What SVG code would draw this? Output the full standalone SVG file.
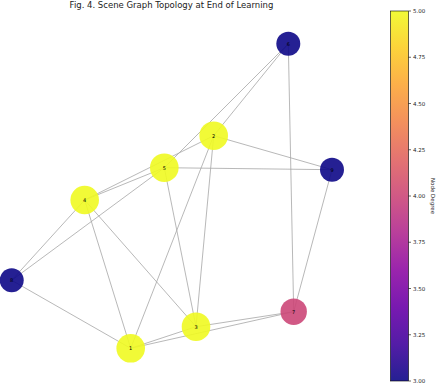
<svg xmlns="http://www.w3.org/2000/svg" width="440" height="384" viewBox="0 0 440 384">
<defs>
<linearGradient id="plasma" x1="0" y1="1" x2="0" y2="0">
<stop offset="0" stop-color="#0d0887"/>
<stop offset="0.1" stop-color="#41049d"/>
<stop offset="0.2" stop-color="#6a00a8"/>
<stop offset="0.3" stop-color="#8f0da4"/>
<stop offset="0.4" stop-color="#b12a90"/>
<stop offset="0.5" stop-color="#cc4778"/>
<stop offset="0.6" stop-color="#e16462"/>
<stop offset="0.7" stop-color="#f2844b"/>
<stop offset="0.8" stop-color="#fca636"/>
<stop offset="0.9" stop-color="#fcce25"/>
<stop offset="1" stop-color="#f0f921"/>
</linearGradient>
</defs>
<style>
.edge{stroke:#a6a6a6;stroke-width:0.8;fill:none}
.node circle{fill-opacity:0.9;stroke:none}
.d3{fill:#0d0887}
.d4{fill:#cc4778}
.d5{fill:#f0f921}
.lbl{font-family:"DejaVu Sans",sans-serif;font-size:5px;fill:#000;text-anchor:middle;dominant-baseline:central}
.title{font-family:"DejaVu Sans",sans-serif;font-size:8.5px;fill:#222;text-anchor:middle}
.tick{font-family:"DejaVu Sans",sans-serif;font-size:5.5px;fill:#222;dominant-baseline:central}
.tk{stroke:#000;stroke-width:0.6}
</style>
<rect width="440" height="384" fill="#fff"/>
<text class="title" x="171.5" y="7.5">Fig. 4. Scene Graph Topology at End of Learning</text>
<g id="edges">
<line class="edge" x1="288.3" y1="43.7" x2="213.7" y2="135.7"/>
<line class="edge" x1="288.3" y1="43.7" x2="164.3" y2="167.7"/>
<line class="edge" x1="288.3" y1="43.7" x2="293.7" y2="311.7"/>
<line class="edge" x1="332" y1="169.7" x2="164.3" y2="167.7"/>
<line class="edge" x1="332" y1="169.7" x2="213.7" y2="135.7"/>
<line class="edge" x1="332" y1="169.7" x2="293.7" y2="311.7"/>
<line class="edge" x1="11.7" y1="280.3" x2="84.7" y2="200"/>
<line class="edge" x1="11.7" y1="280.3" x2="164.3" y2="167.7"/>
<line class="edge" x1="11.7" y1="280.3" x2="130.7" y2="348.3"/>
<line class="edge" x1="293.7" y1="311.7" x2="196" y2="326.7"/>
<line class="edge" x1="293.7" y1="311.7" x2="130.7" y2="348.3"/>
<line class="edge" x1="213.7" y1="135.7" x2="84.7" y2="200"/>
<line class="edge" x1="213.7" y1="135.7" x2="196" y2="326.7"/>
<line class="edge" x1="213.7" y1="135.7" x2="130.7" y2="348.3"/>
<line class="edge" x1="164.3" y1="167.7" x2="84.7" y2="200"/>
<line class="edge" x1="164.3" y1="167.7" x2="196" y2="326.7"/>
<line class="edge" x1="84.7" y1="200" x2="130.7" y2="348.3"/>
<line class="edge" x1="84.7" y1="200" x2="196" y2="326.7"/>
<line class="edge" x1="130.7" y1="348.3" x2="196" y2="326.7"/>
</g>
<g id="node-6" class="node"><circle class="d3" cx="288.3" cy="43.7" r="12"/><text class="lbl" x="288.3" y="43.7">6</text></g>
<g id="node-2" class="node"><circle class="d5" cx="213.7" cy="135.7" r="14.3"/><text class="lbl" x="213.7" y="135.7">2</text></g>
<g id="node-5" class="node"><circle class="d5" cx="164.3" cy="167.7" r="14.3"/><text class="lbl" x="164.3" y="167.7">5</text></g>
<g id="node-9" class="node"><circle class="d3" cx="332" cy="169.7" r="12"/><text class="lbl" x="332" y="169.7">9</text></g>
<g id="node-4" class="node"><circle class="d5" cx="84.7" cy="200" r="14.3"/><text class="lbl" x="84.7" y="200">4</text></g>
<g id="node-8" class="node"><circle class="d3" cx="11.7" cy="280.3" r="12"/><text class="lbl" x="11.7" y="280.3">8</text></g>
<g id="node-1" class="node"><circle class="d5" cx="130.7" cy="348.3" r="14.3"/><text class="lbl" x="130.7" y="348.3">1</text></g>
<g id="node-3" class="node"><circle class="d5" cx="196" cy="326.7" r="14.3"/><text class="lbl" x="196" y="326.7">3</text></g>
<g id="node-7" class="node"><circle class="d4" cx="293.7" cy="311.7" r="13.2"/><text class="lbl" x="293.7" y="311.7">7</text></g>
<g id="colorbar">
<rect x="390.5" y="11" width="18" height="370" fill="url(#plasma)" fill-opacity="0.9" stroke="#000" stroke-width="0.6"/>
<line class="tk" x1="408.5" y1="11" x2="411" y2="11"/>
<line class="tk" x1="408.5" y1="57.25" x2="411" y2="57.25"/>
<line class="tk" x1="408.5" y1="103.5" x2="411" y2="103.5"/>
<line class="tk" x1="408.5" y1="149.75" x2="411" y2="149.75"/>
<line class="tk" x1="408.5" y1="196" x2="411" y2="196"/>
<line class="tk" x1="408.5" y1="242.25" x2="411" y2="242.25"/>
<line class="tk" x1="408.5" y1="288.5" x2="411" y2="288.5"/>
<line class="tk" x1="408.5" y1="334.75" x2="411" y2="334.75"/>
<line class="tk" x1="408.5" y1="381" x2="411" y2="381"/>
<text class="tick" x="413" y="11">5.00</text>
<text class="tick" x="413" y="57.25">4.75</text>
<text class="tick" x="413" y="103.5">4.50</text>
<text class="tick" x="413" y="149.75">4.25</text>
<text class="tick" x="413" y="196">4.00</text>
<text class="tick" x="413" y="242.25">3.75</text>
<text class="tick" x="413" y="288.5">3.50</text>
<text class="tick" x="413" y="334.75">3.25</text>
<text class="tick" x="413" y="381">3.00</text>
<text class="tick" x="433" y="196" transform="rotate(90 433 196)" text-anchor="middle">Node Degree</text>
</g>
</svg>
